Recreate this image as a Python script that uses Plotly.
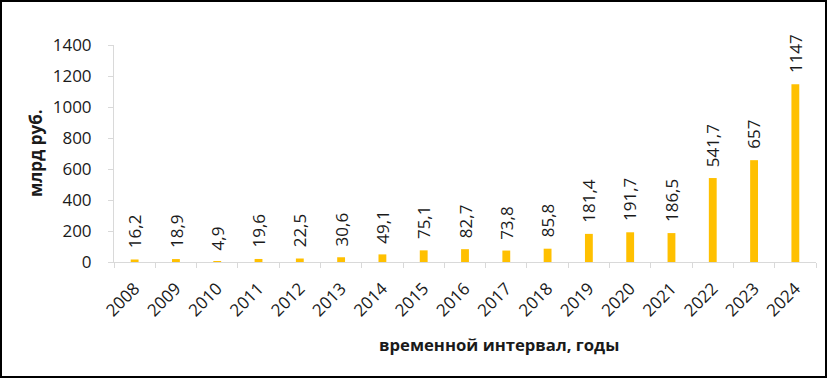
import plotly.graph_objects as go

years = ["2008", "2009", "2010", "2011", "2012", "2013", "2014", "2015", "2016",
         "2017", "2018", "2019", "2020", "2021", "2022", "2023", "2024"]
values = [16.2, 18.9, 4.9, 19.6, 22.5, 30.6, 49.1, 75.1, 82.7,
          73.8, 85.8, 181.4, 191.7, 186.5, 541.7, 657, 1147]
y_ticks = [0, 200, 400, 600, 800, 1000, 1200, 1400]

W, H = 828, 379
ML, MR, MT, MB = 114, 12, 45, 117
FONT = "Open Sans"
TXT = "#1a1a1a"

fig = go.Figure()
fig.add_trace(go.Bar(x=years, y=values, marker=dict(color="#FFC000", line=dict(width=0)),
                     hoverinfo="skip"))

for i, v in enumerate(values):
    fig.add_annotation(x=i, y=v, text=f"{v:g}".replace(".", ","), textangle=-90,
                       showarrow=False, yanchor="bottom", xanchor="center", yshift=9,
                       font=dict(family=FONT, size=17, color=TXT))

pw = W - ML - MR
ph = H - MT - MB

def px_x(p):
    return (p - ML) / pw

def px_y(p):
    return (H - MB - p) / ph

fig.add_annotation(xref="paper", yref="paper", x=px_x(35), y=px_y(153), text="<b>млрд руб.</b>",
                   textangle=-90, showarrow=False, xanchor="center", yanchor="middle",
                   font=dict(family=FONT, size=17, color=TXT))
fig.add_annotation(xref="paper", yref="paper", x=px_x(499), y=px_y(344),
                   text="<b>временной интервал, годы</b>",
                   showarrow=False, xanchor="center", yanchor="middle",
                   font=dict(family=FONT, size=16.7, color=TXT))

fig.add_shape(type="rect", xref="paper", yref="paper",
              x0=px_x(1), x1=px_x(826), y0=px_y(377), y1=px_y(1),
              line=dict(color="black", width=2), fillcolor="rgba(0,0,0,0)", layer="above")

fig.update_layout(
    width=W, height=H,
    margin=dict(l=ML, r=MR, t=MT, b=MB, pad=0),
    plot_bgcolor="white", paper_bgcolor="white",
    bargap=0.81, showlegend=False,
    font=dict(family=FONT, size=17, color=TXT),
    xaxis=dict(type="category", range=[-0.5, len(years) - 0.5], showgrid=False, showline=True,
               linecolor="#d9d9d9", linewidth=1,
               ticks="outside", tickson="boundaries", ticklen=5, tickcolor="#d9d9d9",
               ticklabelstandoff=9,
               tickangle=-45, tickfont=dict(family=FONT, size=17, color=TXT)),
    yaxis=dict(range=[0, 1400], tickvals=y_ticks, showgrid=False, showline=True,
               linecolor="#d9d9d9", linewidth=1, ticks="outside", ticklen=5,
               tickcolor="#d9d9d9", zeroline=False, ticklabelstandoff=13,
               tickfont=dict(family=FONT, size=17, color=TXT)),
)

fig.write_html("out.html", config={"displayModeBar": False},
               post_script="document.body.style.margin='0';document.body.style.overflow='hidden';")
